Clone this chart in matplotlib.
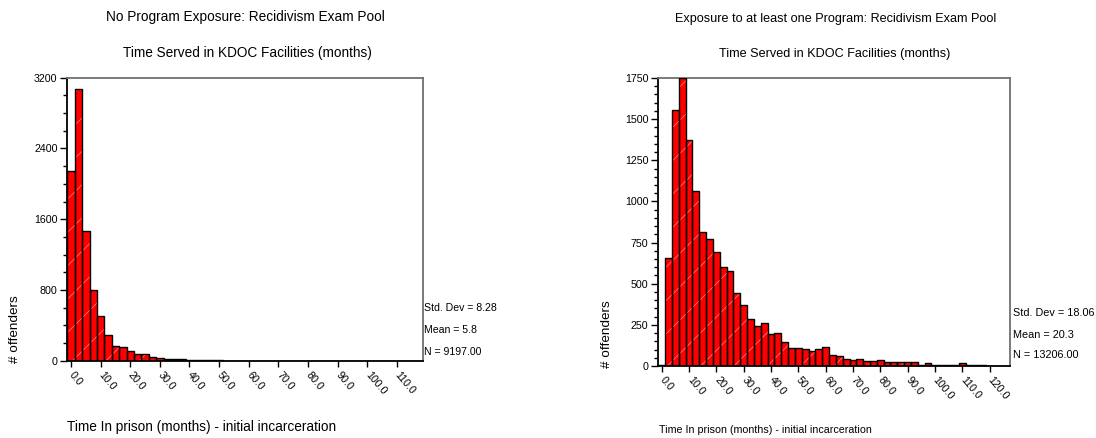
import numpy as np
import matplotlib
matplotlib.use("Agg")
import matplotlib.pyplot as plt
from matplotlib.ticker import MultipleLocator, FixedLocator

plt.rcParams['font.family'] = ['Liberation Sans', 'DejaVu Sans']
plt.rcParams['hatch.linewidth'] = 0.5

# ==============================
# data (bin width 2.5 months, first bin centred at 0)
# ==============================
bin_width = 2.5

none_counts = [2140, 3070, 1470, 805, 505, 290, 170, 152, 115, 78, 76, 47,
               33, 19, 19, 18, 11, 11, 10, 10, 3, 2, 2, 2,
               2, 1, 1, 1, 1, 2, 1, 1, 1, 1, 1, 1,
               1, 1, 1, 1, 1, 0, 0, 0, 0, 0, 0, 1]
none_stats = ['Std. Dev = 8.28', 'Mean = 5.8', 'N = 9197.00']
none_title = 'No Program Exposure: Recidivism Exam Pool'
none_xticks = [0, 10, 20, 30, 40, 50, 60, 70, 80, 90, 100, 110]

prog_counts = [6, 657, 1553, 1748, 1374, 1064, 814, 771, 692, 600, 578, 442,
               370, 285, 242, 263, 193, 203, 146, 110, 110, 101, 93, 101,
               116, 67, 59, 45, 37, 45, 30, 30, 39, 22, 22, 22,
               22, 22, 8, 16, 8, 8, 8, 8, 18, 8, 8, 8, 2, 2, 2]
prog_stats = ['Std. Dev = 18.06', 'Mean = 20.3', 'N = 13206.00']
prog_title = 'Exposure to at least one Program: Recidivism Exam Pool'
prog_xticks = [0, 10, 20, 30, 40, 50, 60, 70, 80, 90, 100, 110, 120]

subtitle = 'Time Served in KDOC Facilities (months)'
xlab = 'Time In prison (months) - initial incarceration'
ylab = '# offenders'

W, H = 1096, 438
fig = plt.figure(figsize=(W / 100, H / 100), dpi=100)


def px(x, y):
    # pixel position (from top-left) -> figure fraction
    return x / W, 1 - y / H


def draw_hist(rect, counts, xlim, ylim, ymajor, yminor, xticks, fs_tick):
    ax = fig.add_axes(rect)
    centers = np.arange(len(counts)) * bin_width
    ax.bar(centers, counts, width=bin_width, color='#ff0000',
           edgecolor='#ff8c8c', linewidth=0, hatch='/', zorder=2)
    ax.bar(centers, counts, width=bin_width, fill=False,
           edgecolor='black', linewidth=1.0, zorder=3)
    ax.set_xlim(*xlim)
    ax.set_ylim(*ylim)
    ax.yaxis.set_major_locator(MultipleLocator(ymajor))
    ax.yaxis.set_minor_locator(MultipleLocator(yminor))
    ax.xaxis.set_major_locator(FixedLocator(xticks))
    ax.set_xticklabels([f'{t:.1f}' for t in xticks], rotation=-50,
                       rotation_mode='anchor', ha='left', va='center',
                       fontsize=fs_tick)
    ax.tick_params(axis='y', which='major', length=5, width=1, labelsize=fs_tick, pad=2)
    ax.tick_params(axis='y', which='minor', length=3, width=1)
    ax.tick_params(axis='x', which='major', length=4, width=1, pad=5)
    for s in ['left', 'bottom']:
        ax.spines[s].set_color('black')
        ax.spines[s].set_linewidth(1.3)
    for s in ['top', 'right']:
        ax.spines[s].set_color('#707070')
        ax.spines[s].set_linewidth(1.3)
    return ax


# left panel
x0, y0 = px(67.3, 360.7)
draw_hist([x0, y0, 355.4 / W, 283 / H], none_counts, (-1.25, 118.75), (0, 3200),
          800, 200, none_xticks, 7.7)
fig.text(*px(245.2, 16.7), none_title, ha='center', va='center', fontsize=9.8)
fig.text(*px(247.8, 53.5), subtitle, ha='center', va='center', fontsize=9.8)
fig.text(*px(15, 363), ylab, rotation=90, ha='center', va='bottom', fontsize=9.7)
fig.text(*px(67, 427), xlab, ha='left', va='center', fontsize=9.8)
for txt, yy in zip(none_stats, [308, 330, 352]):
    fig.text(*px(424, yy), txt, ha='left', va='center', fontsize=7.6)

# right panel
x1, y1 = px(658.3, 366)
draw_hist([x1, y1, 351.7 / W, 288 / H], prog_counts, (-1.25, 127.5), (0, 1750),
          250, 50, prog_xticks, 7.7)
fig.text(*px(835.7, 19), prog_title, ha='center', va='center', fontsize=9.1)
fig.text(*px(834.5, 54.5), subtitle, ha='center', va='center', fontsize=9.1)
fig.text(*px(607.5, 368), ylab, rotation=90, ha='center', va='bottom', fontsize=9.7)
fig.text(*px(658.7, 430), xlab, ha='left', va='center', fontsize=7.7)
for txt, yy in zip(prog_stats, [313, 335, 355]):
    fig.text(*px(1012.7, yy), txt, ha='left', va='center', fontsize=7.8)

fig.savefig('out.png', dpi=100)
